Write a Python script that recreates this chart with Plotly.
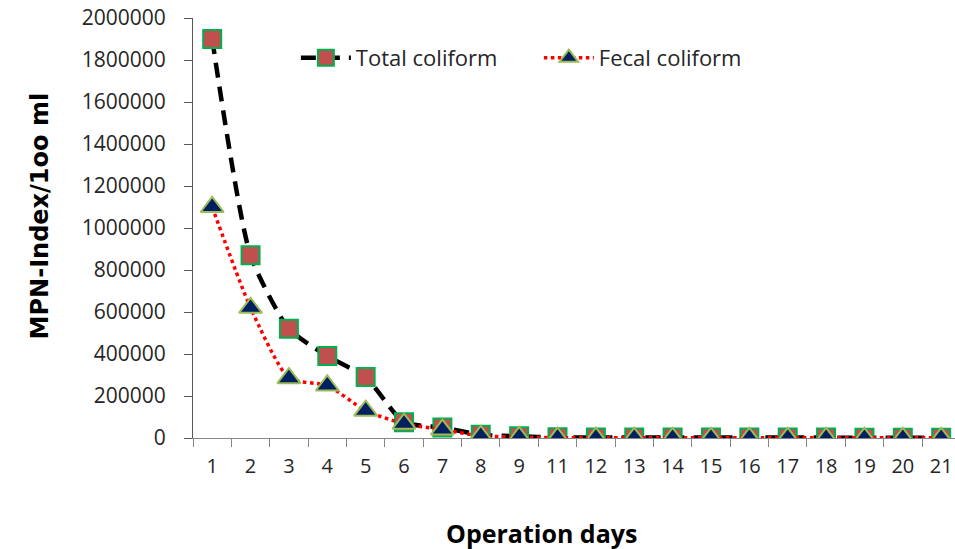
import plotly.graph_objects as go

days = ["1", "2", "3", "4", "5", "6", "7", "8", "9", "11", "12", "13", "14", "15", "16", "17", "18", "19", "20", "21"]
total_coliform = [1900000, 870000, 520000, 390000, 290000, 75000, 50000, 15000, 8000, 3000, 2500, 2400, 2000, 2000, 2000, 1800, 1800, 1500, 1500, 1500]
fecal_coliform = [1100000, 620000, 285000, 250000, 130000, 68000, 40000, 10000, 5000, 1500, 1200, 1100, 1000, 1000, 900, 900, 800, 800, 700, 700]

fig = go.Figure()
fig.add_trace(go.Scatter(
    x=days, y=total_coliform, name="Total coliform", mode="lines+markers",
    line=dict(color="black", width=4.5, dash="15px,9px", shape="spline", smoothing=0.6),
    marker=dict(symbol="square", size=18, color="#C0504D", line=dict(color="#00B050", width=2)),
))
fig.add_trace(go.Scatter(
    x=days, y=fecal_coliform, name="Fecal coliform", mode="lines+markers",
    line=dict(color="#FF0000", width=3.5, dash="dot", shape="spline", smoothing=0.6),
    marker=dict(symbol="triangle-up", size=20, color="#002060", line=dict(color="#9BBB59", width=2)),
))

fig.update_layout(
    width=955, height=549,
    margin=dict(l=193, r=0, t=18, b=111),
    plot_bgcolor="white", paper_bgcolor="white",
    font=dict(family="Open Sans, sans-serif", size=18, color="#262626"),
    legend=dict(orientation="h", x=0.135, y=0.905, xanchor="left", yanchor="middle",
                font=dict(size=22, color="#262626"), bgcolor="rgba(0,0,0,0)",
                itemwidth=50, tracegroupgap=0, entrywidth=178, entrywidthmode="pixels"),
    showlegend=True,
    annotations=[
        dict(text="<b>Operation days</b>", xref="paper", yref="paper",
             x=0.458, y=-0.226, xanchor="center", yanchor="middle", showarrow=False,
             font=dict(family="Open Sans, sans-serif", size=25, color="black")),
        dict(text="<b>MPN-Index/1oo ml</b>", xref="paper", yref="paper",
             x=-0.2008, y=0.53, xanchor="center", yanchor="middle", showarrow=False,
             textangle=-90,
             font=dict(family="DejaVu Sans, sans-serif", size=24, color="black")),
    ],
)
fig.update_xaxes(
    type="category", range=[-0.5, 19.36], automargin=False,
    showline=True, linecolor="#868686", linewidth=1.2,
    ticks="outside", tickson="boundaries", ticklen=8, tickcolor="#868686",
    ticklabelstandoff=10,
    tickfont=dict(size=20, color="#262626"),
    showgrid=False, zeroline=False,
)
fig.update_yaxes(
    range=[0, 2000000], dtick=200000, tickformat="d", automargin=False,
    showline=True, linecolor="#595959", linewidth=1.2,
    ticks="outside", ticklen=8, tickcolor="#595959",
    ticklabelstandoff=14,
    tickfont=dict(size=21, color="#262626"),
    showgrid=False, zeroline=False,
)

fig.write_html("out.html", config={"displayModeBar": False},
               post_script="document.body.style.margin='0';document.body.style.overflow='hidden';")
